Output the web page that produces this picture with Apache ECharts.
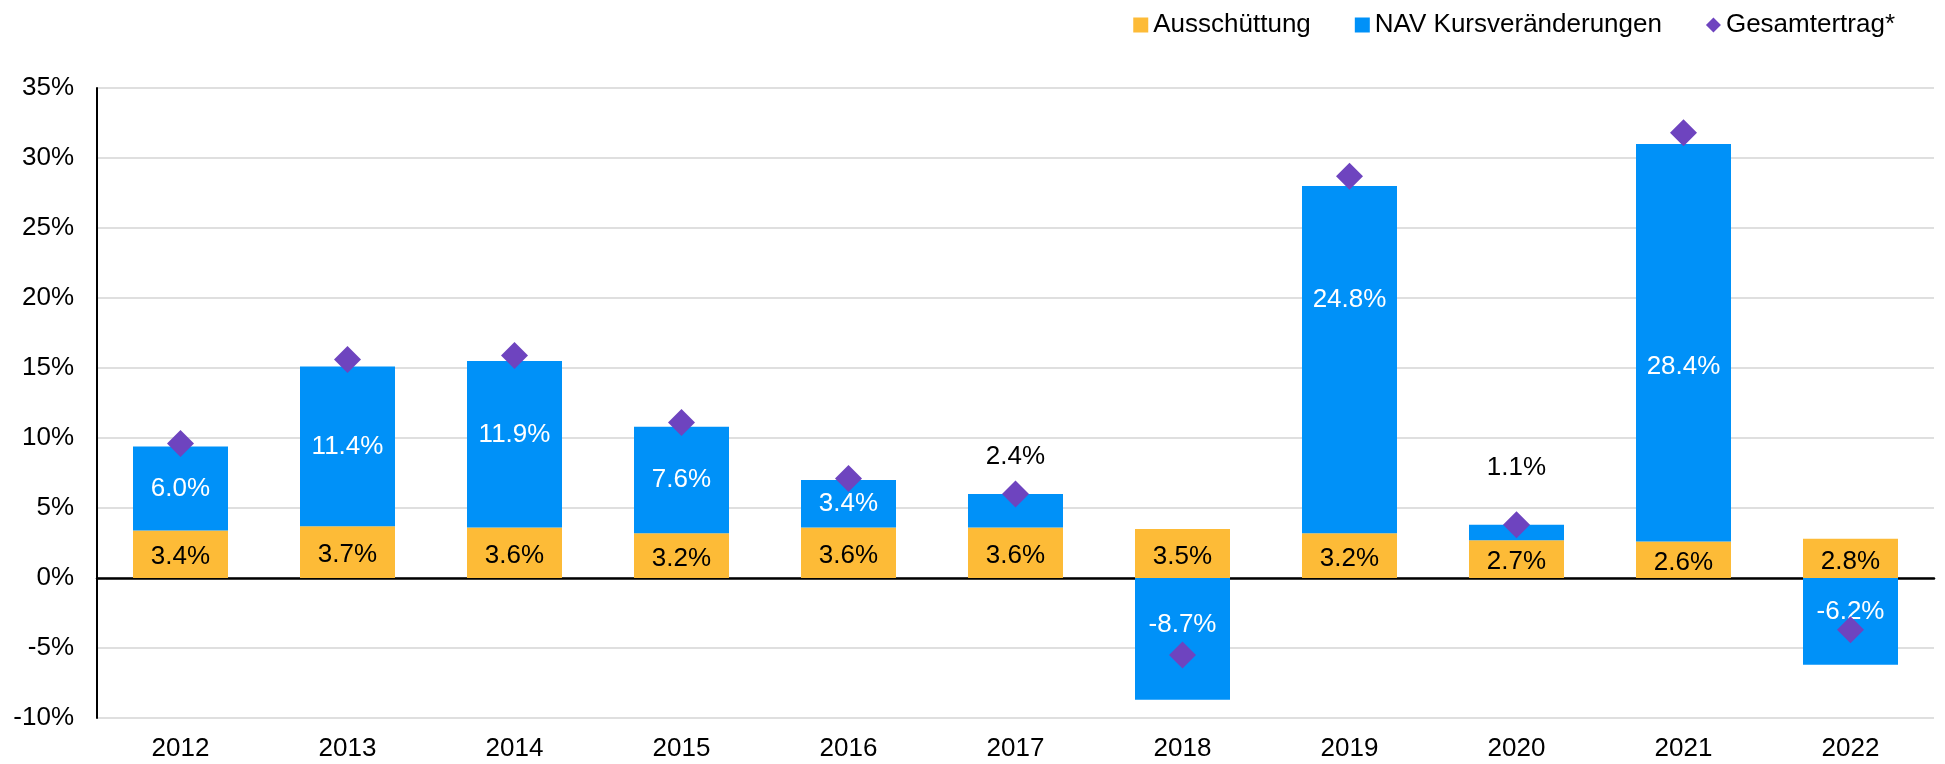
<!DOCTYPE html>
<html>
<head>
<meta charset="utf-8">
<script src="https://cdn.jsdelivr.net/npm/echarts@6/dist/echarts.min.js"></script>
<style>
  html, body { margin: 0; padding: 0; background: #fff; }
  #chart { width: 1945px; height: 764px; }
</style>
</head>
<body>
<div id="chart"></div>
<script>
const years = ['2012', '2013', '2014', '2015', '2016', '2017', '2018', '2019', '2020', '2021', '2022']
const ausschuettung = [3.4, 3.7, 3.6, 3.2, 3.6, 3.6, 3.5, 3.2, 2.7, 2.6, 2.8]
const navChange = [6.0, 11.4, 11.9, 7.6, 3.4, 2.4, -8.7, 24.8, 1.1, 28.4, -6.2]
const gesamtertrag = [9.6, 15.6, 15.9, 11.1, 7.1, 6.0, -5.5, 28.7, 3.8, 31.8, -3.7]

// label tweaks (px), kept apart from the values
const labelAbove = { '2017': 24, '2020': 44 }
const labelShift = { '2014': -9, '2018': -14, '2019': -60, '2021': 24, '2022': -10 }

const fontFamily = '"Liberation Sans", Arial, sans-serif'
const fmt = (v) => v.toFixed(1) + '%'

const navData = navChange.map((v, i) => {
  const y = years[i]
  if (labelAbove[y] !== undefined) {
    return {
      value: v,
      label: { position: 'top', distance: labelAbove[y], color: '#000' }
    }
  }
  return { value: v, label: { offset: [0, labelShift[y] || 0] } }
})

const chart = echarts.init(document.getElementById('chart'))

const option = {
  animation: false,
  textStyle: { fontFamily: fontFamily },
  legend: {
    right: 45,
    top: 7,
    itemWidth: 15,
    itemHeight: 15,
    itemGap: 44,
    textStyle: { fontSize: 26, color: '#000', fontFamily: fontFamily },
    data: [
      { name: 'Ausschüttung', icon: 'rect' },
      { name: 'NAV Kursveränderungen', icon: 'rect' },
      { name: 'Gesamtertrag*', icon: 'diamond' }
    ]
  },
  grid: { left: 97, right: 11, top: 88, bottom: 46 },
  xAxis: [
    {
      type: 'category',
      data: years,
      position: 'bottom',
      axisLine: { show: false, onZero: false },
      axisTick: { show: false },
      axisLabel: { fontSize: 26, color: '#000', margin: 18 }
    },
    {
      type: 'category',
      data: years,
      position: 'bottom',
      axisLine: { show: true, onZero: true, lineStyle: { color: '#000', width: 2.5 } },
      axisTick: { show: false },
      axisLabel: { show: false }
    }
  ],
  yAxis: {
    type: 'value',
    min: -10,
    max: 35,
    interval: 5,
    axisLine: { show: true, lineStyle: { color: '#000', width: 2 } },
    axisTick: { show: false },
    axisLabel: { formatter: '{value}%', fontSize: 26, color: '#000', margin: 23 },
    splitLine: { lineStyle: { color: '#d4d4d4', width: 1.5 } }
  },
  series: [
    {
      name: 'Ausschüttung',
      type: 'bar',
      stack: 'total',
      barWidth: 95,
      data: ausschuettung,
      itemStyle: { color: '#FDBB37' },
      label: {
        show: true,
        position: 'inside',
        formatter: (p) => fmt(p.value),
        fontSize: 26,
        color: '#000',
        offset: [0, 3]
      }
    },
    {
      name: 'NAV Kursveränderungen',
      type: 'bar',
      stack: 'total',
      barWidth: 95,
      data: navData,
      itemStyle: { color: '#0091F8' },
      label: {
        show: true,
        position: 'inside',
        formatter: (p) => fmt(p.value),
        fontSize: 26,
        color: '#fff'
      }
    },
    {
      name: 'Gesamtertrag*',
      type: 'scatter',
      symbol: 'diamond',
      symbolSize: 27,
      data: gesamtertrag,
      itemStyle: { color: '#6E44BF', opacity: 1 },
      z: 5
    }
  ]
}

chart.setOption(option)
window.addEventListener('resize', () => chart.resize())
</script>
</body>
</html>
